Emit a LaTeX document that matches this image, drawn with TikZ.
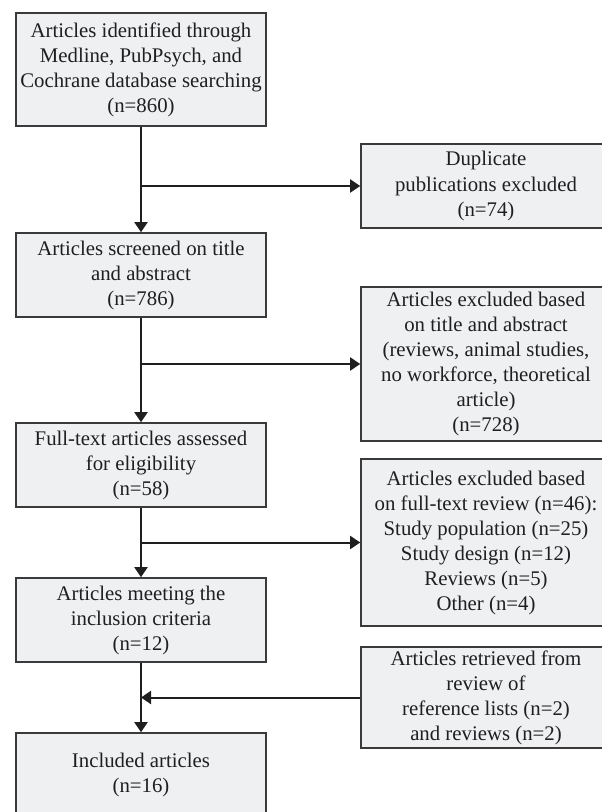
\documentclass[tikz,border=0pt]{standalone}
\usepackage{fontspec}
\setmainfont{Liberation Serif}
\usetikzlibrary{arrows.meta}
\definecolor{boxfill}{HTML}{EFF0F2}
\definecolor{boxline}{HTML}{3A3A3A}
\tikzset{
    flowbox/.style={
        draw=boxline,
        fill=boxfill,
        line width=0.8pt,
        align=center,
        minimum width=125pt,
        inner xsep=1pt,
        inner ysep=0pt,
        text=black!88,
        font=\fontsize{10.4}{12.5}\selectfont
    },
    flow/.style={
        draw=black!88,
        line width=1pt,
        -{Triangle[length=5pt,width=6.5pt]}
    }
}

\begin{document}
\begin{tikzpicture}[x=0.5pt,y=-0.5pt]
	\useasboundingbox (0,0) rectangle (601,812);
	% main column
	\node[flowbox,minimum height=56.5pt] at (141,69.5) (ident) {Articles identified through\\Medline, PubPsych, and\\Cochrane database searching\\(n=860)};
	\node[flowbox,minimum height=42pt] at (141,275) (screen) {Articles screened on title\\and abstract\\(n=786)};
	\node[flowbox,minimum height=42pt] at (141,465) (full) {Full-text articles assessed\\for eligibility\\(n=58)};
	\node[flowbox,minimum height=42pt] at (141,620) (meet) {Articles meeting the\\inclusion criteria\\(n=12)};
	\node[flowbox,minimum height=42pt] at (141,775) (incl) {Included articles\\(n=16)};
	% side boxes
	\node[flowbox,minimum height=42pt] at (486,186) (dupl) {Duplicate\\publications excluded\\(n=74)};
	\node[flowbox,minimum height=77pt] at (486,364) (exclA) {Articles excluded based\\on title and abstract\\(reviews, animal studies,\\no workforce, theoretical\\article)\\(n=728)};
	\node[flowbox,minimum height=83.5pt] at (486,542.5) (exclB) {Articles excluded based\\on full-text review (n=46):\\Study population (n=25)\\Study design (n=12)\\Reviews (n=5)\\Other (n=4)};
	\node[flowbox,minimum height=50.5pt] at (486,697.5) (retr) {Articles retrieved from\\review of\\reference lists (n=2)\\and reviews (n=2)};
	% connectors
	\draw[flow] (ident) -- (screen);
	\draw[flow] (screen) -- (full);
	\draw[flow] (full) -- (meet);
	\draw[flow] (meet) -- (incl);
	\draw[flow] (ident |- dupl.west) -- (dupl.west);
	\draw[flow] (screen |- exclA.west) -- (exclA.west);
	\draw[flow] (full |- exclB.west) -- (exclB.west);
	\draw[flow] (retr.west) -- (meet |- retr.west);
\end{tikzpicture}
\end{document}
